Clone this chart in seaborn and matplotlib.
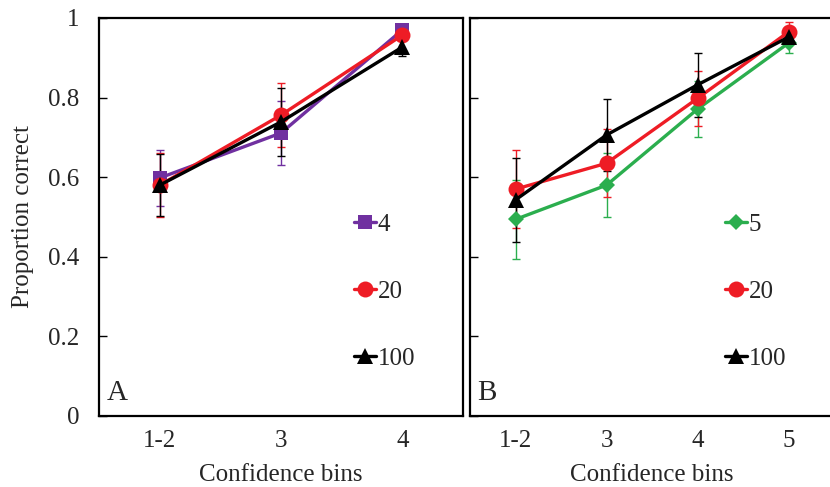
import matplotlib
matplotlib.use("Agg")
import matplotlib.pyplot as plt
import seaborn as sns
import numpy as np

# ---- data ----
cats_a = ["1-2", "3", "4"]
cats_b = ["1-2", "3", "4", "5"]

a_labels = ["4", "20", "100"]
a_vals = {
    "4":   [0.598, 0.711, 0.970],
    "20":  [0.580, 0.756, 0.957],
    "100": [0.580, 0.739, 0.927],
}
a_err = {
    "4":   [0.070, 0.080, 0.010],
    "20":  [0.080, 0.080, 0.012],
    "100": [0.078, 0.085, 0.022],
}

b_labels = ["5", "20", "100"]
b_vals = {
    "5":   [0.494, 0.580, 0.771, 0.937],
    "20":  [0.570, 0.635, 0.798, 0.965],
    "100": [0.543, 0.706, 0.832, 0.952],
}
b_err = {
    "5":   [0.100, 0.080, 0.070, 0.025],
    "20":  [0.098, 0.085, 0.070, 0.025],
    "100": [0.105, 0.090, 0.080, 0.015],
}

yticks = [0, 0.2, 0.4, 0.6, 0.8, 1.0]
ytick_labels = ["0", "0.2", "0.4", "0.6", "0.8", "1"]

styles = {
    "4":   dict(color="#7030A0", marker="s", ms=10),
    "5":   dict(color="#2BAE4E", marker="D", ms=8),
    "20":  dict(color="#EE1C25", marker="o", ms=11.5),
    "100": dict(color="#000000", marker="^", ms=11.5),
}

sns.set_theme(style="white")
plt.rcParams["font.family"] = ["Liberation Serif", "DejaVu Serif"]

fig = plt.figure(figsize=(8.3, 4.87), dpi=100)
axA = fig.add_axes([99 / 830, 1 - 416 / 487, 364 / 830, 398 / 487])
axB = fig.add_axes([470 / 830, 1 - 416 / 487, 364 / 830, 398 / 487])


def draw(ax, cats, labels, vals, errs, letter, show_ylabels):
    x = np.arange(len(cats))
    for lab in labels:
        st = styles[lab]
        ax.errorbar(x, vals[lab], yerr=errs[lab], fmt="none", ecolor=st["color"],
                    elinewidth=1.0, capsize=3, capthick=1.0, zorder=2)
    for i, lab in enumerate(labels):
        st = styles[lab]
        sns.lineplot(x=x, y=vals[lab], ax=ax, color=st["color"], marker=st["marker"],
                     markersize=st["ms"], markeredgecolor=st["color"], markeredgewidth=0,
                     linewidth=2.4, label=lab, zorder=3 + i)
    ax.set_xlim(-0.5, len(cats) - 0.5)
    ax.set_ylim(0, 1)
    ax.set_xticks(x)
    ax.set_xticklabels(cats)
    ax.set_yticks(yticks)
    if show_ylabels:
        ax.set_yticklabels(ytick_labels)
        ax.set_ylabel("Proportion correct", fontsize=18, labelpad=10)
    else:
        ax.set_yticklabels([])
    ax.tick_params(axis="y", direction="in", length=6, width=1, color="black",
                   left=True, pad=14, labelsize=18)
    ax.tick_params(axis="x", length=0, pad=10, labelsize=18)
    ax.set_xlabel("Confidence bins", fontsize=18, labelpad=9)
    for sp in ax.spines.values():
        sp.set_color("black")
        sp.set_linewidth(1.6)
    ax.text(0.02, 0.025, letter, transform=ax.transAxes, fontsize=21,
            ha="left", va="bottom")
    leg = ax.legend(loc="center left", bbox_to_anchor=(0.70, 0.312), frameon=False,
                    fontsize=18, handlelength=0.9, handletextpad=0.05,
                    labelspacing=1.78, borderpad=0, borderaxespad=0)
    for h in leg.get_lines():
        h.set_linewidth(2.4)


draw(axA, cats_a, a_labels, a_vals, a_err, "A", True)
draw(axB, cats_b, b_labels, b_vals, b_err, "B", False)

fig.savefig("out.png", dpi=100)
